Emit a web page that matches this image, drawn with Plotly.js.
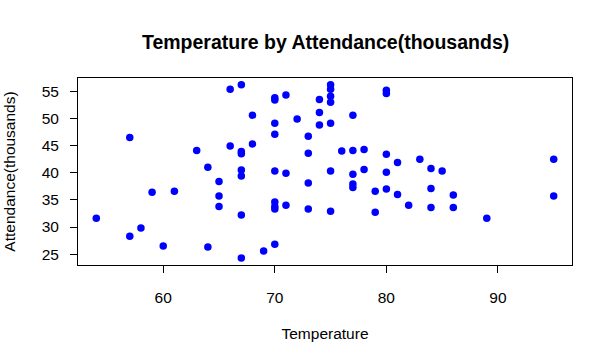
<!DOCTYPE html>
<html>
<head>
<meta charset="utf-8">
<script src="https://cdn.plot.ly/plotly-3.0.1.min.js"></script>
<style>html,body{margin:0;padding:0;background:#fff;}#chart{width:612px;height:363px;}</style>
</head>
<body>
<div id="chart"></div>
<script>
const temperature = [
  54, 57, 57, 58, 59, 60, 61, 63, 64, 64,
  65, 65, 65, 66, 66, 67, 67, 67, 67, 67, 67, 67,
  68, 68, 69, 70, 70, 70, 70, 70, 70, 70, 70, 70,
  71, 71, 71, 72, 73, 73, 73, 73, 74, 74, 74,
  75, 75, 75, 75, 75, 75, 75, 76, 77, 77, 77, 77, 77,
  78, 78, 79, 79, 80, 80, 80, 80, 80, 81, 81, 82, 83,
  84, 84, 84, 85, 86, 86, 89, 95, 95
];
const attendance = [
  31.6, 46.5, 28.3, 29.8, 36.4, 26.5, 36.6, 44.1, 41.0, 26.3,
  38.4, 35.7, 33.8, 55.4, 44.9, 56.2, 43.5, 43.9, 40.5, 39.4, 32.2, 24.3,
  50.6, 45.3, 25.6, 53.4, 53.8, 49.1, 47.1, 40.3, 34.6, 33.8, 33.3, 26.8,
  54.3, 39.9, 34.0, 49.9, 46.7, 43.6, 38.1, 33.3, 53.5, 51.1, 48.8,
  56.2, 55.4, 54.1, 53.0, 49.1, 40.3, 32.9, 44.0, 50.6, 44.1, 39.7, 37.9, 37.3,
  44.3, 40.6, 36.6, 32.7, 55.2, 54.6, 43.4, 40.1, 37.0, 41.9, 36.0, 34.0, 42.5,
  40.8, 37.1, 33.6, 40.3, 35.9, 33.6, 31.6, 42.5, 35.7
];
const xTicks = [60, 70, 80, 90];
const yTicks = [25, 30, 35, 40, 45, 50, 55];
const chartTitle = "Temperature by Attendance(thousands)";
const xTitle = "Temperature";
const yTitle = "Attendance(thousands)";

const FONT = "Liberation Sans, Arial, sans-serif";
const trace = {
  x: temperature, y: attendance, type: "scatter", mode: "markers",
  marker: {color: "#0000FF", size: 7.5, line: {width: 0}},
  hoverinfo: "none"
};
const axisCommon = {
  showline: true, mirror: true, linecolor: "#000", linewidth: 1,
  showgrid: false, zeroline: false, ticks: "outside", ticklen: 7,
  tickcolor: "#000", tickwidth: 1, tickmode: "array",
  tickfont: {family: FONT, size: 15.5, color: "#000"}
};
const layout = {
  width: 612, height: 363,
  margin: {l: 78, r: 40, t: 78, b: 98},
  paper_bgcolor: "#fff", plot_bgcolor: "#fff",
  showlegend: false,
  title: {text: "<b>" + chartTitle + "</b>", x: 0.532, xanchor: "center", y: 0.885, yanchor: "middle",
          font: {family: FONT, size: 19.5, color: "#000"}},
  xaxis: Object.assign({}, axisCommon, {
    range: [52.36, 96.64], tickvals: xTicks, ticktext: xTicks.map(String),
    ticklabelstandoff: 11,
    title: {text: xTitle, standoff: 23, font: {family: FONT, size: 15.5, color: "#000"}}
  }),
  yaxis: Object.assign({}, axisCommon, {
    range: [23.0, 57.45], tickvals: yTicks, ticktext: yTicks.map(String),
    ticklabelstandoff: 8,
    title: {text: yTitle, standoff: 22, font: {family: FONT, size: 15.5, color: "#000"}}
  })
};
Plotly.newPlot("chart", [trace], layout, {staticPlot: true, displayModeBar: false});
</script>
</body>
</html>
